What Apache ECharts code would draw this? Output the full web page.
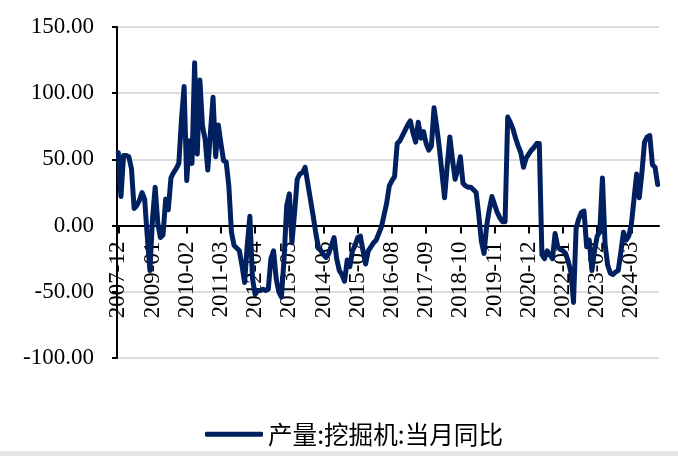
<!DOCTYPE html>
<html>
<head>
<meta charset="utf-8">
<script src="https://cdn.jsdelivr.net/npm/echarts@6/dist/echarts.min.js"></script>
<style>
html,body{margin:0;padding:0;background:#fff;}
#chart{width:678px;height:456px;}
</style>
</head>
<body>
<div id="chart"></div>
<script>
var categories = [
"2007-12",
"2008-01","2008-02","2008-03","2008-04","2008-05","2008-06","2008-07","2008-08","2008-09","2008-10","2008-11","2008-12",
"2009-01","2009-02","2009-03","2009-04","2009-05","2009-06","2009-07","2009-08","2009-09","2009-10","2009-11","2009-12",
"2010-01","2010-02","2010-03","2010-04","2010-05","2010-06","2010-07","2010-08","2010-09","2010-10","2010-11","2010-12",
"2011-01","2011-02","2011-03","2011-04","2011-05","2011-06","2011-07","2011-08","2011-09","2011-10","2011-11","2011-12",
"2012-01","2012-02","2012-03","2012-04","2012-05","2012-06","2012-07","2012-08","2012-09","2012-10","2012-11","2012-12",
"2013-01","2013-02","2013-03","2013-04","2013-05","2013-06","2013-07","2013-08","2013-09","2013-10","2013-11","2013-12",
"2014-01","2014-02","2014-03","2014-04","2014-05","2014-06","2014-07","2014-08","2014-09","2014-10","2014-11","2014-12",
"2015-01","2015-02","2015-03","2015-04","2015-05","2015-06","2015-07","2015-08","2015-09","2015-10","2015-11","2015-12",
"2016-01","2016-02","2016-03","2016-04","2016-05","2016-06","2016-07","2016-08","2016-09","2016-10","2016-11","2016-12",
"2017-01","2017-02","2017-03","2017-04","2017-05","2017-06","2017-07","2017-08","2017-09","2017-10","2017-11","2017-12",
"2018-01","2018-02","2018-03","2018-04","2018-05","2018-06","2018-07","2018-08","2018-09","2018-10","2018-11","2018-12",
"2019-01","2019-02","2019-03","2019-04","2019-05","2019-06","2019-07","2019-08","2019-09","2019-10","2019-11","2019-12",
"2020-01","2020-02","2020-03","2020-04","2020-05","2020-06","2020-07","2020-08","2020-09","2020-10","2020-11","2020-12",
"2021-01","2021-02","2021-03","2021-04","2021-05","2021-06","2021-07","2021-08","2021-09","2021-10","2021-11","2021-12",
"2022-01","2022-02","2022-03","2022-04","2022-05","2022-06","2022-07","2022-08","2022-09","2022-10","2022-11","2022-12",
"2023-01","2023-02","2023-03","2023-04","2023-05","2023-06","2023-07","2023-08","2023-09","2023-10","2023-11","2023-12",
"2024-01","2024-02","2024-03","2024-04","2024-05","2024-06","2024-07","2024-08","2024-09","2024-10","2024-11","2024-12",
"2025-01"
];

var seriesName = "产量:挖掘机:当月同比";

var excavatorYoY = [
55,
22,53,53,52,43,13,15,19,25,20,-8,-34,
5,29,2,-9,-7,20,12,36,40,43,47,80,
105,34,64,47,123,54,110,75,65,42,70,97,
52,76,62,49,48,30,-5,-15,-17,-19,-30,-43,
-15,7,-40,-52,-49,-49,-48,-49,-48,-25,-19,-40,
-50,-54,-25,15,24,-13,10,35,39,40,44,32,
20,8,-5,-16,-19,-22,-24,-21,-15,-9,-25,-34,
-37,-42,-26,-31,-19,-15,-9,-8,-19,-29,-19,-16,
-13,-11,-6,-1,8,17,30,34,37,62,64,68,
72,76,79,70,63,78,66,71,62,57,60,89,
75,59,40,21,45,67,50,35,42,52,32,30,
29,29,27,25,8,-12,-21,0,12,22,16,10,
6,3,3,82,78,73,66,60,55,44,51,54,
57,59,62,62,-22,-25,-19,-22,-25,-6,-16,-18,
-19,-21,-27,-35,-58,-2,5,10,11,-16,-11,-34,
-19,-8,-5,36,-14,-30,-36,-37,-35,-34,-20,-5,
-11,-8,1,20,39,21,40,63,67,68,46,44,
31
];

var yTicks = {min: -100, max: 150, interval: 50};

var gridTop = 27, gridHeight = 331;
var zeroOffset = -gridHeight * (0 - yTicks.min) / (yTicks.max - yTicks.min);

var chart = echarts.init(document.getElementById('chart'), null, {renderer: 'canvas'});
chart.setOption({
  animation: false,
  backgroundColor: '#ffffff',
  grid: {left: 117, right: 19, top: gridTop, height: gridHeight, containLabel: false},
  graphic: [{
    type: 'rect', left: 0, bottom: 0, z: -1,
    shape: {width: 678, height: 5},
    style: {fill: '#e6e6e6'}
  }],
  legend: {
    data: [seriesName],
    left: 205,
    top: 422,
    padding: 0,
    icon: 'roundRect',
    itemWidth: 58,
    itemHeight: 5,
    itemGap: 4,
    itemStyle: {color: '#002060'},
    textStyle: {fontFamily: 'Noto Sans CJK SC', fontSize: 24.6, color: '#000', padding: [4, 0, 0, 0]}
  },
  xAxis: {
    type: 'category',
    data: categories,
    boundaryGap: true,
    position: 'bottom',
    offset: zeroOffset,
    z: 0,
    axisLine: {onZero: false, lineStyle: {color: '#000', width: 2}},
    axisTick: {show: true, interval: 12, alignWithLabel: true, length: 8, lineStyle: {color: '#000', width: 2}},
    axisLabel: {interval: 12, rotate: 90, margin: 16, padding: [8, 0, 0, 0], fontFamily: 'Liberation Serif', fontSize: 23, color: '#000'},
    splitLine: {show: false}
  },
  yAxis: {
    type: 'value',
    min: yTicks.min,
    max: yTicks.max,
    interval: yTicks.interval,
    z: 0,
    axisLine: {show: true, lineStyle: {color: '#000', width: 2}},
    axisTick: {show: true, length: 5, lineStyle: {color: '#000', width: 2}},
    axisLabel: {margin: 23, padding: [4, 0, 0, 0], fontFamily: 'Liberation Serif', fontSize: 23, color: '#000',
      formatter: function (v) { return v.toFixed(2); }},
    splitLine: {show: true, lineStyle: {color: '#dcdcdc', width: 2}}
  },
  series: [{
    name: seriesName,
    type: 'line',
    z: 5,
    data: excavatorYoY,
    showSymbol: false,
    symbol: 'none',
    lineStyle: {color: '#002060', width: 5, join: 'round', cap: 'round'},
    itemStyle: {color: '#002060'}
  }]
});
</script>
</body>
</html>
